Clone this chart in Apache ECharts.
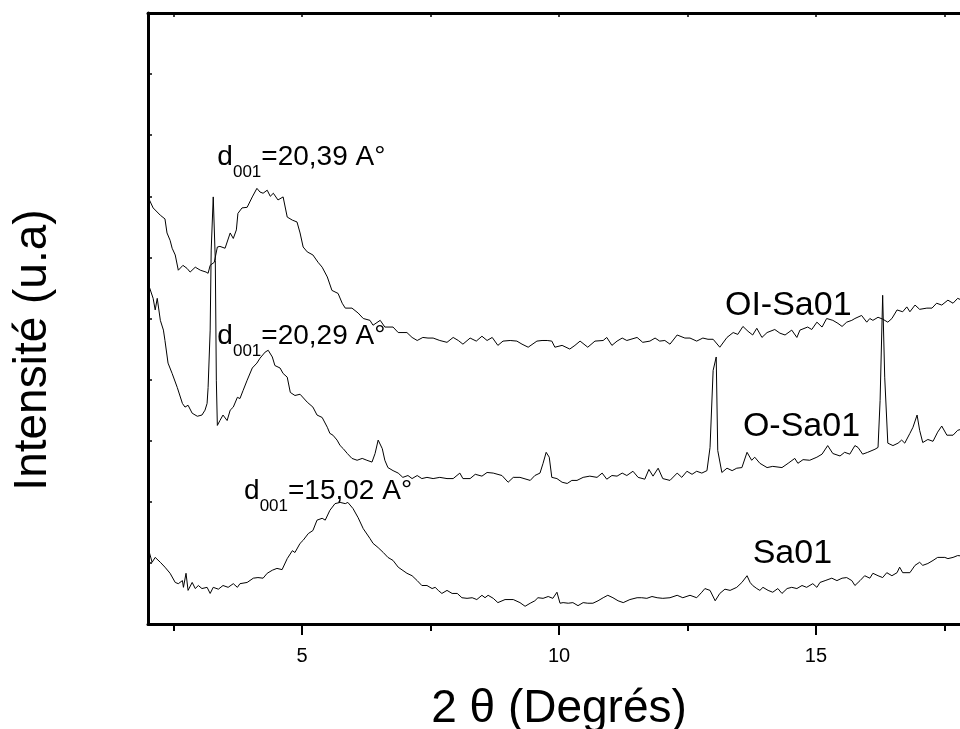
<!DOCTYPE html>
<html><head><meta charset="utf-8">
<script src="https://cdn.jsdelivr.net/npm/echarts@6/dist/echarts.min.js"></script>
<style>html,body{margin:0;padding:0;background:#fff}#chart{width:960px;height:729px}</style>
</head><body><div id="chart"></div>
<script>
const FONT = "'Liberation Sans', Arial, Helvetica, sans-serif";
const xMajorTicks = [5, 10, 15];
const xMinorTicks = [2.5, 7.5, 12.5, 17.5];
const xTopTicks = [2.5, 5, 7.5, 10, 12.5, 15, 17.5];
const xTitle = '2 θ (Degrés)';
const yTitle = 'Intensité (u.a)';
const seriesNames = ['OI-Sa01', 'O-Sa01', 'Sa01'];

const oiSa01 = [[2.00,69.9],[2.10,68.1],[2.24,66.9],[2.33,66.3],[2.37,64.0],[2.43,62.8],[2.47,61.5],[2.53,60.4],[2.59,57.9],[2.68,58.7],[2.76,58.2],[2.82,57.6],[2.92,58.4],[3.02,57.9],[3.05,58.2],[3.13,57.6],[3.17,57.4],[3.21,58.7],[3.29,59.2],[3.35,61.7],[3.40,61.8],[3.50,61.5],[3.60,64.0],[3.66,63.1],[3.72,64.5],[3.75,67.2],[3.83,68.1],[3.93,68.2],[4.03,69.9],[4.12,71.3],[4.18,70.7],[4.24,70.5],[4.32,71.0],[4.38,70.0],[4.44,70.5],[4.53,69.4],[4.63,69.9],[4.71,66.6],[4.81,66.1],[4.90,65.8],[4.96,64.0],[5.02,61.7],[5.10,60.9],[5.21,60.4],[5.31,59.2],[5.39,58.4],[5.49,56.8],[5.58,54.6],[5.70,54.1],[5.78,52.5],[5.84,51.7],[5.97,51.7],[6.09,50.9],[6.19,50.0],[6.32,49.7],[6.38,48.9],[6.52,49.7],[6.61,48.6],[6.77,48.6],[6.87,47.7],[7.04,47.7],[7.14,46.9],[7.24,46.4],[7.35,46.9],[7.45,46.8],[7.55,46.8],[7.68,46.4],[7.82,46.1],[7.94,46.9],[8.04,46.4],[8.13,45.8],[8.27,46.8],[8.39,46.3],[8.50,47.1],[8.60,46.4],[8.70,46.9],[8.81,45.6],[8.91,46.3],[9.05,46.4],[9.18,46.3],[9.28,45.8],[9.40,45.3],[9.57,46.3],[9.67,46.4],[9.77,46.4],[9.86,46.3],[9.92,45.3],[10.06,45.6],[10.21,45.0],[10.31,45.6],[10.41,46.3],[10.56,45.3],[10.70,46.3],[10.86,46.4],[10.93,46.9],[11.03,45.6],[11.13,46.3],[11.23,46.8],[11.32,46.4],[11.52,46.9],[11.63,46.1],[11.77,46.3],[11.87,46.8],[11.96,46.3],[12.06,46.4],[12.16,45.8],[12.30,47.3],[12.45,46.8],[12.55,46.8],[12.68,46.3],[12.80,46.8],[12.90,46.6],[13.00,46.6],[13.13,45.3],[13.27,46.9],[13.39,47.7],[13.48,47.4],[13.58,48.7],[13.68,47.9],[13.77,47.3],[13.85,48.4],[13.95,46.9],[14.05,47.7],[14.20,48.2],[14.30,47.6],[14.40,47.3],[14.53,48.1],[14.63,46.9],[14.69,48.1],[14.84,48.6],[14.92,48.2],[15.02,49.4],[15.12,48.6],[15.21,50.0],[15.33,49.7],[15.43,49.2],[15.51,48.7],[15.60,49.4],[15.70,49.7],[15.76,50.0],[15.89,50.5],[15.99,49.4],[16.05,50.0],[16.11,49.7],[16.21,50.2],[16.30,49.9],[16.40,49.4],[16.48,50.0],[16.58,51.4],[16.69,51.1],[16.77,51.9],[16.83,51.1],[16.93,52.2],[17.02,51.5],[17.16,51.7],[17.26,51.7],[17.35,52.5],[17.45,52.2],[17.57,53.0],[17.67,52.5],[17.76,53.3],[17.84,53.0],[18.00,53.5]];

const oSa01 = [[2.00,55.8],[2.10,53.3],[2.14,51.4],[2.18,53.3],[2.24,49.7],[2.30,48.1],[2.33,46.4],[2.39,42.7],[2.47,41.0],[2.57,38.7],[2.67,36.1],[2.72,35.5],[2.78,35.8],[2.86,34.5],[2.96,34.0],[3.05,34.2],[3.11,35.0],[3.15,36.1],[3.17,38.7],[3.21,48.1],[3.23,61.2],[3.27,69.9],[3.31,59.5],[3.33,39.9],[3.35,32.5],[3.40,33.3],[3.46,34.2],[3.54,33.3],[3.60,35.0],[3.66,35.5],[3.74,37.1],[3.79,36.9],[3.85,38.2],[3.93,39.9],[4.03,41.9],[4.12,42.7],[4.18,43.5],[4.28,44.5],[4.34,44.8],[4.42,43.7],[4.47,42.3],[4.57,41.9],[4.63,41.0],[4.71,40.4],[4.77,37.9],[4.86,37.4],[4.96,37.6],[5.10,36.3],[5.21,35.5],[5.29,34.2],[5.39,33.8],[5.49,32.2],[5.54,31.2],[5.60,30.9],[5.68,30.1],[5.74,29.2],[5.80,28.7],[5.88,27.9],[5.97,27.1],[6.07,26.8],[6.17,27.1],[6.26,26.8],[6.36,26.5],[6.42,27.9],[6.48,30.1],[6.56,28.7],[6.61,26.8],[6.67,25.6],[6.77,25.1],[6.87,24.7],[6.96,24.0],[7.06,24.3],[7.14,23.8],[7.24,24.3],[7.33,23.8],[7.43,24.0],[7.55,23.8],[7.68,24.0],[7.82,23.8],[7.94,23.8],[8.07,24.7],[8.13,23.8],[8.27,23.8],[8.37,24.5],[8.50,24.2],[8.60,24.8],[8.72,24.7],[8.89,24.3],[9.01,23.2],[9.11,24.0],[9.24,24.0],[9.44,23.5],[9.53,24.3],[9.63,24.7],[9.69,26.3],[9.75,28.1],[9.81,27.3],[9.86,24.0],[9.96,23.8],[10.06,23.2],[10.16,23.0],[10.25,23.5],[10.35,23.5],[10.47,24.0],[10.60,24.2],[10.74,24.0],[10.84,24.7],[10.93,23.7],[11.03,24.3],[11.13,24.2],[11.23,24.7],[11.32,24.3],[11.44,25.0],[11.54,24.0],[11.67,23.7],[11.75,25.3],[11.83,24.2],[11.93,25.5],[12.02,23.8],[12.16,23.5],[12.30,24.7],[12.39,24.0],[12.49,25.0],[12.59,24.5],[12.68,25.0],[12.78,24.7],[12.88,25.1],[12.94,28.9],[13.00,41.5],[13.06,43.7],[13.09,28.4],[13.17,24.8],[13.27,25.5],[13.37,25.1],[13.46,25.5],[13.56,25.6],[13.66,28.1],[13.75,26.8],[13.81,27.3],[13.91,26.3],[14.05,25.6],[14.16,25.8],[14.34,25.6],[14.46,26.3],[14.59,27.1],[14.65,26.3],[14.75,26.9],[14.88,26.8],[15.02,27.3],[15.12,27.8],[15.23,29.2],[15.33,27.9],[15.47,27.5],[15.56,28.1],[15.66,27.8],[15.76,29.2],[15.82,28.9],[15.91,27.8],[16.01,28.1],[16.15,28.6],[16.21,28.9],[16.25,36.6],[16.30,53.8],[16.34,40.4],[16.40,29.6],[16.50,29.2],[16.60,29.6],[16.67,30.1],[16.73,29.6],[16.83,31.2],[16.89,32.2],[16.97,34.2],[17.02,31.7],[17.08,29.7],[17.18,30.2],[17.28,29.9],[17.37,31.4],[17.45,32.4],[17.55,30.9],[17.67,30.9],[17.76,31.7],[17.88,32.0],[18.00,32.4]];

const sa01 = [[2.00,12.5],[2.08,10.1],[2.14,10.9],[2.24,10.1],[2.33,9.3],[2.43,8.3],[2.53,6.8],[2.59,6.6],[2.67,7.1],[2.69,6.0],[2.74,8.3],[2.78,5.5],[2.86,6.8],[2.92,5.8],[2.98,6.3],[3.05,5.8],[3.15,6.0],[3.21,5.0],[3.27,6.0],[3.37,5.7],[3.46,6.3],[3.56,6.0],[3.66,6.6],[3.74,6.0],[3.79,6.6],[3.93,6.8],[4.05,7.5],[4.14,7.6],[4.24,7.5],[4.32,8.3],[4.42,8.8],[4.51,9.1],[4.61,8.9],[4.71,10.7],[4.81,12.0],[4.86,11.7],[4.96,13.2],[5.02,13.7],[5.12,14.8],[5.21,15.3],[5.29,17.0],[5.39,17.3],[5.45,17.0],[5.54,18.6],[5.64,19.7],[5.74,19.9],[5.84,19.7],[5.89,19.9],[5.99,18.9],[6.09,17.4],[6.19,15.6],[6.32,14.0],[6.38,13.2],[6.48,12.5],[6.58,11.7],[6.67,10.9],[6.77,10.4],[6.87,9.3],[7.04,8.3],[7.14,7.9],[7.24,7.1],[7.33,6.3],[7.43,6.3],[7.53,5.8],[7.59,6.0],[7.65,5.5],[7.72,5.0],[7.82,5.5],[7.92,5.0],[8.02,5.0],[8.11,4.3],[8.21,4.2],[8.31,4.3],[8.40,4.0],[8.50,4.7],[8.56,4.3],[8.62,4.7],[8.72,4.2],[8.81,3.5],[8.95,4.0],[9.11,4.0],[9.24,3.5],[9.34,2.9],[9.44,3.4],[9.53,3.8],[9.59,4.3],[9.69,4.2],[9.79,4.5],[9.88,4.2],[9.96,5.2],[10.02,3.4],[10.08,3.5],[10.18,3.4],[10.27,3.5],[10.37,3.0],[10.47,3.5],[10.56,3.4],[10.66,3.4],[10.76,3.8],[10.86,4.3],[10.95,4.7],[11.05,4.3],[11.15,3.8],[11.25,3.5],[11.38,4.0],[11.52,4.3],[11.61,4.3],[11.71,4.2],[11.81,4.5],[11.91,4.3],[12.02,4.2],[12.16,4.3],[12.30,4.7],[12.41,4.3],[12.55,4.7],[12.68,4.3],[12.78,5.2],[12.84,5.8],[12.94,5.5],[13.04,3.8],[13.13,5.0],[13.23,5.7],[13.33,5.5],[13.46,6.0],[13.56,6.8],[13.66,7.9],[13.72,6.8],[13.77,6.3],[13.85,5.8],[13.91,5.5],[13.97,6.0],[14.07,5.5],[14.16,5.2],[14.26,5.8],[14.34,5.0],[14.44,5.8],[14.53,6.0],[14.63,5.8],[14.73,6.3],[14.82,6.0],[14.94,6.6],[15.02,6.0],[15.08,6.8],[15.18,7.1],[15.31,7.5],[15.41,7.1],[15.51,7.5],[15.60,7.6],[15.70,7.1],[15.76,6.3],[15.86,7.1],[15.95,7.9],[16.05,7.5],[16.11,8.3],[16.21,7.9],[16.30,7.6],[16.38,8.4],[16.48,7.9],[16.58,8.4],[16.63,9.3],[16.69,8.4],[16.83,8.4],[16.93,9.6],[17.02,10.1],[17.08,9.6],[17.18,9.9],[17.28,10.4],[17.37,10.9],[17.51,10.9],[17.57,10.7],[17.67,10.9],[17.76,11.2],[17.88,11.1],[18.00,11.4]];

const seriesLabelPos = [[13.23, 52.1], [13.58, 32.3], [13.77, 11.5]];
const peakNotes = ['=20,39 A°', '=20,29 A°', '=15,02 A°'];
const peakNotePos = [[3.35, 78.6], [3.35, 49.3], [3.87, 24.0]];

const chart = echarts.init(document.getElementById('chart'), null, {renderer: 'canvas'});

function makeSeries(name, data, idx) {
  return {
    name: name, type: 'line', data: data, symbol: 'none', showSymbol: false,
    animation: false, silent: true, clip: false,
    lineStyle: {color: '#000', width: 1}, itemStyle: {color: '#000'},
    markPoint: {
      symbol: 'circle', symbolSize: 0, silent: true, animation: false,
      itemStyle: {color: 'transparent'},
      data: [
        {coord: seriesLabelPos[idx], label: {show: true, formatter: name, position: [0, 0],
          align: 'left', verticalAlign: 'middle', fontSize: 34, fontFamily: FONT, color: '#000'}},
        {coord: peakNotePos[idx], label: {show: true,
          formatter: '{m|d}{s|001}{m|' + peakNotes[idx] + '}', position: [0, 0],
          align: 'left', verticalAlign: 'top',
          rich: {
            m: {fontSize: 28, lineHeight: 32, verticalAlign: 'top', fontFamily: FONT, color: '#000'},
            s: {fontSize: 17, lineHeight: 17, padding: [20, 0, 0, 0], verticalAlign: 'top', fontFamily: FONT, color: '#000'}
          }}}
      ]
    }
  };
}

const axisLineStyle = {color: '#000', width: 3};

const option = {
  backgroundColor: '#fff',
  animation: false,
  grid: {left: 148, top: 13, width: 822, height: 611, outerBoundsMode: 'none', containLabel: false},
  xAxis: [
    {type: 'value', position: 'bottom', min: 2, max: 18,
      axisLine: {show: true, onZero: false, lineStyle: axisLineStyle},
      axisTick: {show: true, customValues: xMajorTicks, length: 11, lineStyle: {color: '#000', width: 2}},
      axisLabel: {show: true, customValues: xMajorTicks, margin: 22, fontSize: 20, fontFamily: FONT, color: '#000'},
      splitLine: {show: false},
      name: xTitle, nameLocation: 'middle', nameGap: 62,
      nameTextStyle: {fontSize: 46, fontFamily: FONT, color: '#000'}},
    {type: 'value', position: 'bottom', min: 2, max: 18,
      axisLine: {show: false},
      axisTick: {show: true, customValues: xMinorTicks, length: 7, lineStyle: {color: '#000', width: 2}},
      axisLabel: {show: false}, splitLine: {show: false}},
    {type: 'value', position: 'top', min: 2, max: 18,
      axisLine: {show: true, onZero: false, lineStyle: axisLineStyle},
      axisTick: {show: true, inside: true, customValues: xTopTicks, length: 4, lineStyle: {color: '#000', width: 1.5}},
      axisLabel: {show: false}, splitLine: {show: false}}
  ],
  yAxis: [
    {type: 'value', position: 'left', min: 0, max: 100, interval: 10,
      axisLine: {show: true, onZero: false, lineStyle: axisLineStyle},
      axisTick: {show: true, inside: true, length: 4, lineStyle: {color: '#000', width: 1.5}},
      axisLabel: {show: false}, splitLine: {show: false}},
    {type: 'value', position: 'right', min: 0, max: 100, interval: 10,
      axisLine: {show: true, onZero: false, lineStyle: axisLineStyle},
      axisTick: {show: true, inside: true, length: 4, lineStyle: {color: '#000', width: 1.5}},
      axisLabel: {show: false}, splitLine: {show: false}}
  ],
  graphic: [
    {type: 'text', x: 33, y: 350, rotation: Math.PI / 2, silent: true,
      style: {text: yTitle, fontSize: 46, fontFamily: FONT, fill: '#000', align: 'center', verticalAlign: 'middle'}}
  ],
  series: [
    makeSeries(seriesNames[0], oiSa01, 0),
    makeSeries(seriesNames[1], oSa01, 1),
    makeSeries(seriesNames[2], sa01, 2)
  ]
};
chart.setOption(option);
</script>
</body></html>
